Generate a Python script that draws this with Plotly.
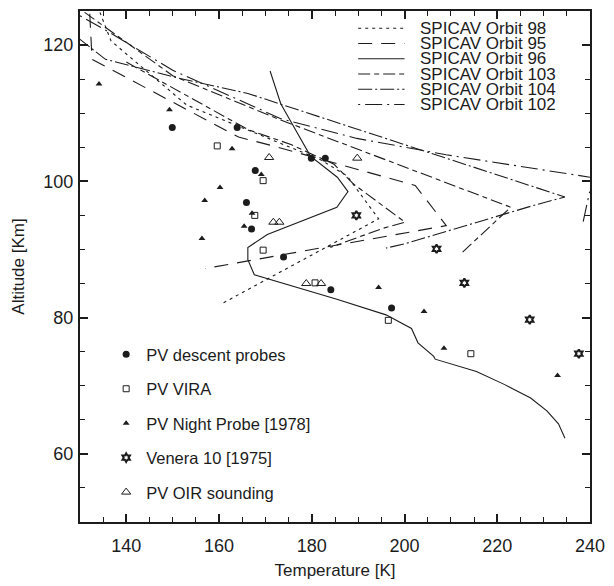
import plotly.graph_objects as go

# ---------------- data ----------------
descent_T = [149.9, 163.9, 179.9, 182.9, 167.8, 165.9, 167.0, 173.9, 184.1, 197.2]
descent_A = [107.9, 107.9, 103.4, 103.4, 101.6, 96.9, 93.0, 88.9, 84.1, 81.4]

vira_T = [159.6, 169.5, 167.7, 169.5, 180.7, 196.5, 214.3]
vira_A = [105.2, 100.1, 95.0, 89.9, 85.1, 79.6, 74.7]

night_T = [134.1, 149.3, 162.8, 169.1, 160.2, 156.9, 167.1, 165.4, 156.3, 194.4, 204.2, 208.5, 233.0]
night_A = [114.3, 110.5, 104.8, 101.0, 99.1, 97.2, 95.3, 93.4, 91.6, 84.4, 80.9, 75.5, 71.5]

venera_T = [189.6, 206.9, 212.9, 227.0, 237.6]
venera_A = [95.0, 90.1, 85.1, 79.7, 74.7]

oir_T = [170.8, 189.8, 171.7, 173.0, 178.8, 182.0]
oir_A = [103.5, 103.4, 94.0, 94.0, 85.0, 85.0]

orbit98_T = [134.3, 136.7, 153.0, 172.2, 181.8, 187.6, 194.4, 160.2]
orbit98_A = [124.8, 120.6, 111.2, 105.8, 103.2, 100.8, 94.5, 81.9]

orbit95_T = [132.1, 132.6, 164.2, 172.2, 202.3, 209.0, 157.0]
orbit95_A = [124.6, 117.9, 106.5, 105.1, 99.4, 93.5, 87.2]

orbit96_T = [171.0, 173.3, 174.7, 179.7, 185.5, 187.8, 185.4, 170.4, 166.2, 166.2, 167.6,
             185.4, 196.0, 201.5, 202.9, 206.3, 206.6, 215.5, 221.5, 227.2, 230.7, 233.2, 234.6]
orbit96_A = [116.2, 111.4, 109.7, 103.7, 100.6, 98.5, 96.2, 92.2, 90.3, 88.5, 86.3,
             82.7, 80.4, 78.4, 76.3, 74.3, 73.9, 72.1, 70.2, 68.2, 66.3, 64.4, 62.3]

orbit103_T = [131.0, 150.0, 173.3, 222.9, 212.5, None,
              140.0, 166.2, 175.5, 184.8, 189.0, 200.1, 195.3, 184.0]
orbit103_A = [124.8, 115.5, 109.0, 96.2, 89.6, None,
              117.5, 107.6, 105.4, 102.5, 99.6, 94.0, 93.1, 90.3]

orbit104_T = [129.7, 135.5, 150.9, 166.2, 234.6, 227.5, 200.4, 196.0]
orbit104_A = [121.0, 117.9, 115.2, 112.9, 97.7, 96.4, 90.9, 90.2]

orbit102_T = [130.0, 136.0, 150.0, 173.3, 189.7, 209.0, 240.0, 243.0, 239.9, 238.5]
orbit102_A = [124.3, 122.0, 116.3, 109.2, 106.3, 103.9, 100.6, 100.2, 98.4, 94.0]

line_names = ["SPICAV Orbit 98", "SPICAV Orbit 95", "SPICAV Orbit 96",
              "SPICAV Orbit 103", "SPICAV Orbit 104", "SPICAV Orbit 102"]
marker_names = ["PV descent probes", "PV VIRA", "PV Night Probe [1978]",
                "Venera 10 [1975]", "PV OIR sounding"]

# ---------------- styling ----------------
INK = "#1c1c1c"
FONT = "Liberation Sans, Arial, Helvetica, sans-serif"
dashes = ["3px,4px", "14px,9px", "solid", "12px,4px,5px,4px", "14px,3px,2px,3px", "2px,5px,17px,5px"]
line_data = [(orbit98_T, orbit98_A), (orbit95_T, orbit95_A), (orbit96_T, orbit96_A),
             (orbit103_T, orbit103_A), (orbit104_T, orbit104_A), (orbit102_T, orbit102_A)]

fig = go.Figure()
for name, (t, a), d in zip(line_names, line_data, dashes):
    fig.add_trace(go.Scatter(x=t, y=a, mode="lines", name=name, showlegend=False,
                             connectgaps=False, line=dict(color=INK, width=1.1, dash=d)))

marker_sets = [
    (descent_T, descent_A, dict(symbol="circle", size=7, color=INK)),
    (vira_T, vira_A, dict(symbol="square-open", size=6, color=INK, line=dict(width=1))),
    (night_T, night_A, dict(symbol="triangle-up", size=6, color=INK)),
    (venera_T, venera_A, dict(symbol="hexagram-open", size=6.5, color=INK, line=dict(width=2))),
    (oir_T, oir_A, dict(symbol="triangle-up-open", size=8, color=INK, line=dict(width=1))),
]
for i, (name, (t, a, m)) in enumerate(zip(marker_names, marker_sets)):
    fig.add_trace(go.Scatter(x=t, y=a, mode="markers", name=name, marker=m,
                             legendgroup=f"g{i}", showlegend=True))

# ---------------- layout geometry ----------------
W, H = 614, 586
L, R, T, B = 80, 17, 9, 58
pw, ph = W - L - R, H - T - B

def page_to_paper(xp, yp):
    return (xp - L) / pw, (H - B - yp) / ph

shapes, annotations = [], []
for i, (name, d) in enumerate(zip(line_names, dashes)):
    yp = 26.5 + 15.5 * i
    x0, y0 = page_to_paper(362, yp)
    x1, _ = page_to_paper(409, yp)
    xt, _ = page_to_paper(423, yp)
    shapes.append(dict(type="line", xref="paper", yref="paper", x0=x0, x1=x1, y0=y0, y1=y0,
                       line=dict(color=INK, width=1.1, dash=d)))
    annotations.append(dict(text=name, xref="paper", yref="paper", x=xt, y=y0,
                            xanchor="left", yanchor="middle", showarrow=False,
                            font=dict(family=FONT, size=17, color=INK)))

axis_common = dict(showline=True, linewidth=2, linecolor=INK, mirror="ticks",
                   ticks="inside", ticklen=8, tickwidth=1.5, tickcolor=INK,
                   showgrid=False, zeroline=False, ticklabeloverflow="allow",
                   tickfont=dict(family=FONT, size=18, color=INK),
                   minor=dict(ticks="inside", ticklen=5, tickwidth=1.2, tickcolor=INK, dtick=5))

fig.update_layout(
    width=W, height=H, margin=dict(l=L, r=R, t=T, b=B),
    paper_bgcolor="white", plot_bgcolor="white",
    font=dict(family=FONT, color=INK), hovermode=False,
    shapes=shapes, annotations=annotations,
    xaxis=dict(range=[130, 240], tickvals=[140, 160, 180, 200, 220, 240],
               title=dict(text="Temperature [K]", font=dict(family=FONT, size=17, color=INK), standoff=10),
               ticklabelstandoff=6, **axis_common),
    yaxis=dict(range=[50, 125], tickvals=[60, 80, 100, 120],
               title=dict(text="Altitude [Km]", font=dict(family=FONT, size=17, color=INK), standoff=14),
               ticklabelstandoff=1, **axis_common),
    legend=dict(x=0.0513, y=0.3619, xanchor="left", yanchor="top", bgcolor="rgba(0,0,0,0)",
                font=dict(family=FONT, size=16.5, color=INK), tracegroupgap=10,
                itemsizing="trace"),
)

# remove the browser's default 8px body margin so the 614x586 figure fills the window exactly
fig.write_html("out.html", config={"displayModeBar": False},
               post_script="document.body.style.margin='0px';")
